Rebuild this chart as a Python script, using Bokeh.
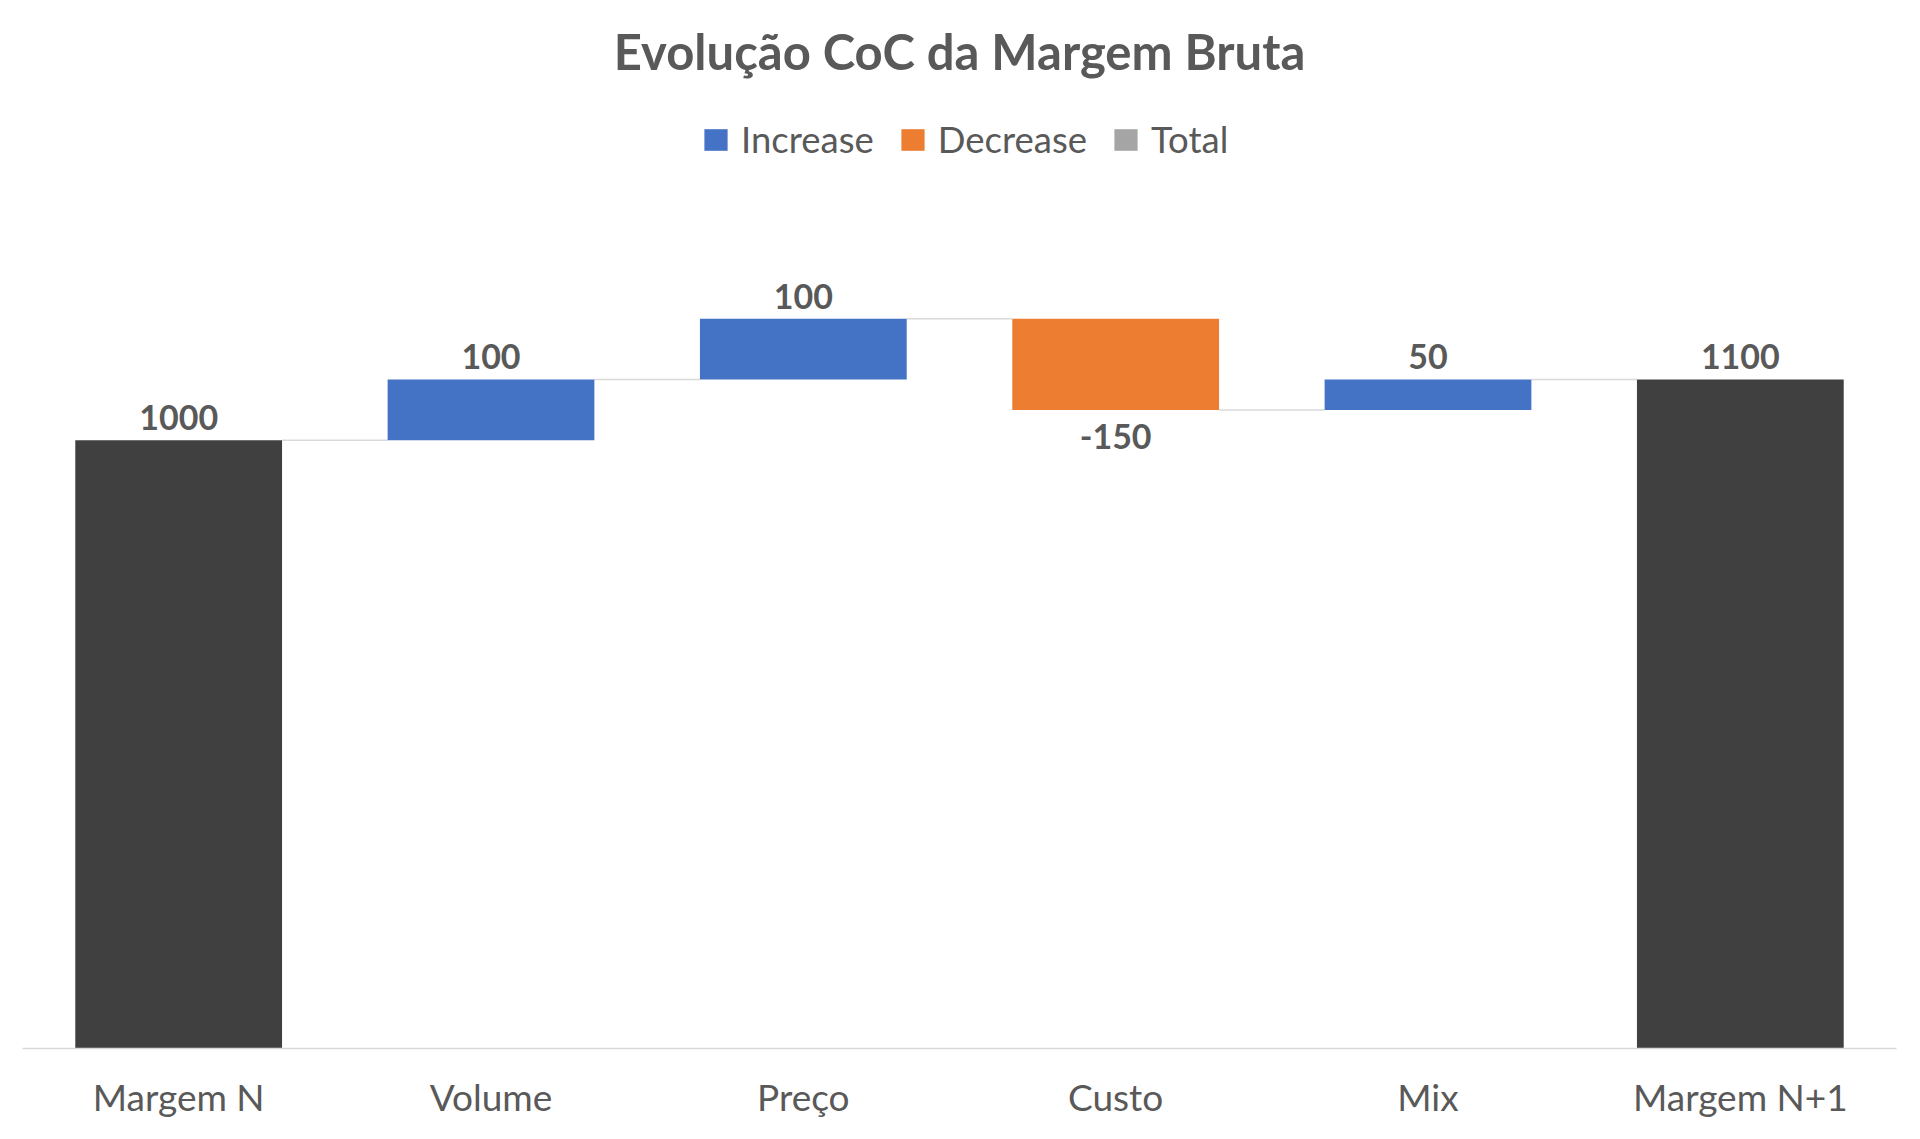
from bokeh.plotting import figure
from bokeh.models import ColumnDataSource, FactorRange, Range1d, LabelSet, Legend, LegendItem, Title
from bokeh.transform import dodge
from bokeh.embed import file_html
from bokeh.resources import INLINE
from bokeh.core.properties import value

# ---- data ----
categories = ["Margem N", "Volume", "Preço", "Custo", "Mix", "Margem N+1"]
changes = [1000, 100, 100, -150, 50, 1100]
kinds = ["total", "increase", "increase", "decrease", "increase", "total"]
legend_labels = ["Increase", "Decrease", "Total"]
title_text = "Evolução CoC da Margem Bruta"

# ---- styles ----
COL = {"increase": "#4472C4", "decrease": "#ED7D31", "total": "#404040"}
LEGEND_TOTAL = "#A5A5A5"
TXT = "#595959"
FONT = "Lato"
BAR_W = 0.662
Y_END = 1585

# ---- waterfall geometry from the data ----
running = 0
bottoms, tops, ends = [], [], []
for v, k in zip(changes, kinds):
    if k == "total":
        b, t = 0, v
        running = v
    else:
        start = running
        running = running + v
        b, t = min(start, running), max(start, running)
    bottoms.append(b)
    tops.append(t)
    ends.append(running)

p = figure(x_range=FactorRange(*categories), y_range=Range1d(0, Y_END),
           width=1904, height=1123, output_backend="svg", toolbar_location=None,
           min_border_left=22, min_border_right=8, min_border_bottom=75, min_border_top=0,
           y_axis_location=None)
p.background_fill_color = "white"
p.border_fill_color = "white"
p.outline_line_color = None
p.xgrid.grid_line_color = None
p.ygrid.grid_line_color = None

# outermost title slot used as a small top spacer
p.title.text = " "
p.title.text_font_size = "2px"
p.title.standoff = 10
# real chart title, just above the plot area
p.add_layout(Title(text=title_text, align="center", text_font=FONT, text_font_style="bold",
                   text_font_size="49px", text_color=TXT), "above")

def subset(kind):
    idx = [i for i, k in enumerate(kinds) if k == kind]
    return ColumnDataSource(dict(cat=[categories[i] for i in idx],
                                 bottom=[bottoms[i] for i in idx],
                                 top=[tops[i] for i in idx]))

# connectors
conn = ColumnDataSource(dict(a=categories[:-1], b=categories[1:], y=ends[:-1]))
p.segment(x0=dodge("a", BAR_W / 2, range=p.x_range), x1=dodge("b", -BAR_W / 2, range=p.x_range),
          y0="y", y1="y", source=conn, line_color="#D9D9D9", line_width=1.5)

r_inc = p.vbar(x="cat", bottom="bottom", top="top", width=BAR_W, source=subset("increase"),
               fill_color=COL["increase"], line_color=None)
r_dec = p.vbar(x="cat", bottom="bottom", top="top", width=BAR_W, source=subset("decrease"),
               fill_color=COL["decrease"], line_color=None)
r_tot = p.vbar(x="cat", bottom="bottom", top="top", width=BAR_W, source=subset("total"),
               fill_color=COL["total"], line_color=None)
# legend swatch for "Total" (zero-height, invisible in the plot)
r_tot_leg = p.vbar(x=[categories[0]], bottom=[0], top=[0], width=BAR_W,
                   fill_color=LEGEND_TOTAL, line_color=None)

# data labels
up_idx = [i for i, k in enumerate(kinds) if k != "decrease"]
dn_idx = [i for i, k in enumerate(kinds) if k == "decrease"]
up_src = ColumnDataSource(dict(cat=[categories[i] for i in up_idx], y=[tops[i] for i in up_idx],
                               txt=[str(changes[i]) for i in up_idx]))
dn_src = ColumnDataSource(dict(cat=[categories[i] for i in dn_idx], y=[bottoms[i] for i in dn_idx],
                               txt=[str(changes[i]) for i in dn_idx]))
for src, off in ((up_src, 10), (dn_src, -39)):
    p.add_layout(LabelSet(x="cat", y="y", text="txt", source=src, y_offset=off,
                          text_align="center", text_baseline="alphabetic",
                          text_font=value(FONT), text_font_style="bold", text_font_size="34px",
                          text_color=TXT))

legend = Legend(items=[LegendItem(label=legend_labels[0], renderers=[r_inc]),
                       LegendItem(label=legend_labels[1], renderers=[r_dec]),
                       LegendItem(label=legend_labels[2], renderers=[r_tot_leg])],
                location=(679, 887), orientation="horizontal")
legend.border_line_color = None
legend.background_fill_alpha = 0
legend.label_text_font = FONT
legend.label_text_font_size = "36.5px"
legend.label_text_color = TXT
legend.glyph_width = 29
legend.glyph_height = 27
legend.label_standoff = 11
legend.spacing = 24
legend.padding = 0
legend.margin = 0
p.add_layout(legend)

ax = p.xaxis[0]
ax.axis_line_color = "#D9D9D9"
ax.axis_line_width = 1.5
ax.major_tick_line_color = None
ax.minor_tick_line_color = None
ax.major_label_text_font = FONT
ax.major_label_text_font_size = "37px"
ax.major_label_text_color = TXT
ax.major_label_standoff = 19

open("out.html", "w").write(file_html(p, INLINE))
